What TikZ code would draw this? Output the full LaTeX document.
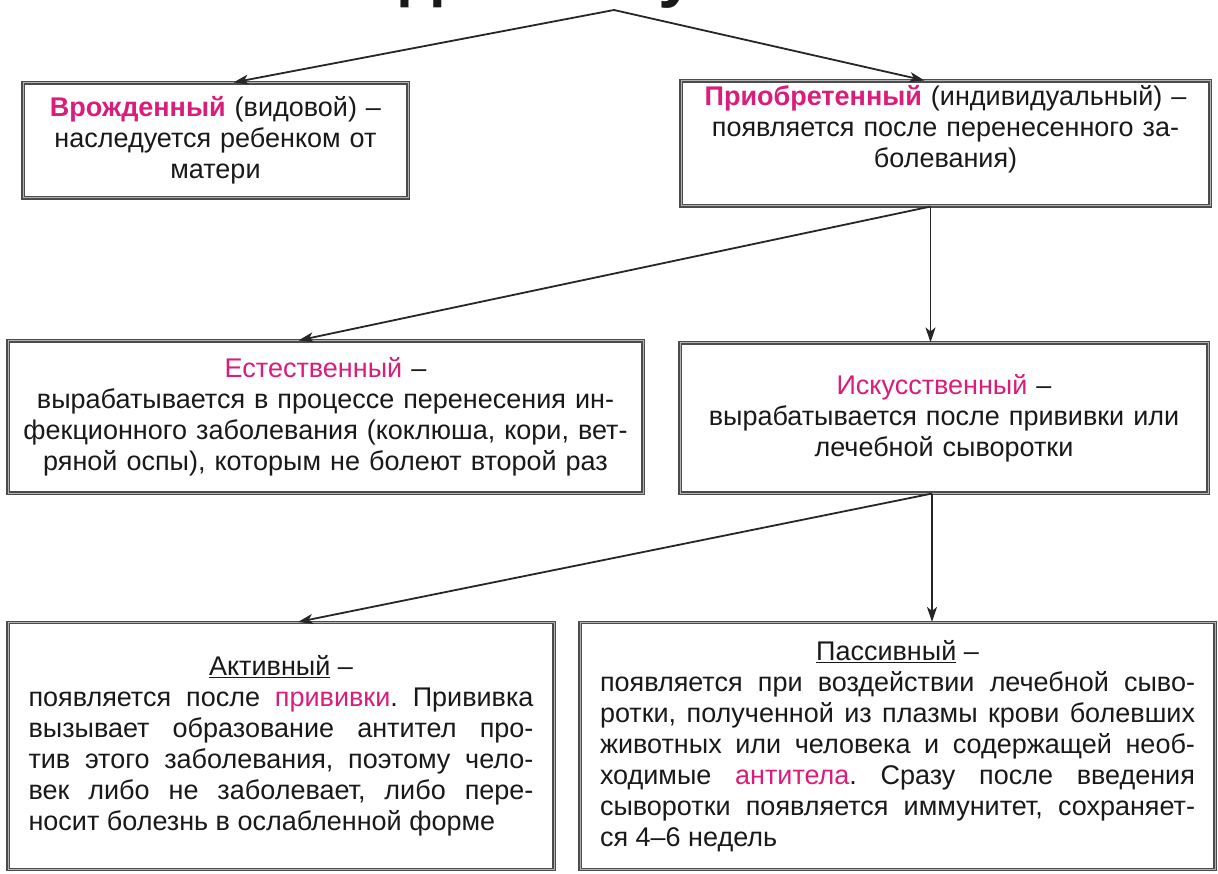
\documentclass[tikz,border=0pt]{standalone}
\usepackage{fontspec}
\setmainfont{Liberation Sans}
\usepackage{tikz}
\usetikzlibrary{arrows.meta}
\definecolor{vidcol}{RGB}{218,28,122}
\newcommand{\vid}[1]{\textcolor{vidcol}{#1}}
\frenchspacing

\begin{document}
\begin{tikzpicture}[x=1pt,y=-1pt,
	kasten/.style={draw=black!70, double=black!30, double distance=1pt, line width=1.1pt, fill=white, inner sep=0pt, text=black!90, font=\fontsize{27}{31}\selectfont},
	pfeil/.style={-{Stealth[length=15pt,width=10pt,inset=4pt]}, line width=1.8pt, black!85}]
	\useasboundingbox (0,0) rectangle (1218,874);
	%\draw[help lines] (0,0) grid[step=100] (1218,874);
	\node[anchor=base, text=black!90, font=\bfseries\fontsize{67}{70}\selectfont] (titel) at (614,-5) {Виды иммунитета};
	\coordinate (spitze) at (614,10);

	\node[kasten, minimum width=385pt, minimum height=115pt, text width=360pt, align=center] (vrozh) at (215.5,140.5)
		{\textbf{\vid{Врожденный}} (видовой) –\\ наследуется ребенком от\\ матери};
	\node[kasten, minimum width=529pt, minimum height=125pt, text width=500pt, align=center] (priob) at (945.5,143.5)
		{\textbf{\vid{Приобретенный}} (индивидуальный) –\\ появляется после перенесенного за-\\ болевания)\par\vspace*{28pt}};

	\node[kasten, minimum width=635pt, minimum height=152pt, text width=610pt, align=center] (estest) at (325.5,417)
		{\vid{Естественный} –\\ вырабатывается в процессе перенесения ин-\\ фекционного заболевания (коклюша, кори, вет-\\ ряной оспы), которым не болеют второй раз};
	\node[kasten, minimum width=528pt, minimum height=150pt, text width=500pt, align=center] (iskus) at (944,418)
		{\vid{Искусственный} –\\ вырабатывается после прививки или\\ лечебной сыворотки};

	\node[kasten, minimum width=546pt, minimum height=247pt, text width=505pt, align=justify] (aktiv) at (281,746)
		{{\centering\underline{Активный} –\par}
		появляется после \vid{прививки}. Прививка\linebreak
		вызывает образование антител про-\linebreak
		тив этого заболевания, поэтому чело-\linebreak
		век либо не заболевает, либо пере-\linebreak
		носит болезнь в ослабленной форме};
	\node[kasten, minimum width=635pt, minimum height=247pt, text width=595pt, align=justify] (passiv) at (897.5,746)
		{{\centering\underline{Пассивный} –\par}
		появляется при воздействии лечебной сыво-\linebreak
		ротки, полученной из плазмы крови болевших\linebreak
		животных или человека и содержащей необ-\linebreak
		ходимые \vid{антитела}. Сразу после введения\linebreak
		сыворотки появляется иммунитет, сохраняет-\linebreak
		ся 4–6 недель};

	\draw[pfeil] (spitze) -- ([xshift=18pt]vrozh.north);
	\draw[pfeil] (spitze) -- ([xshift=-21pt]priob.north);
	\coordinate (ab1) at ([xshift=-15pt]priob.south);
	\draw[pfeil] (ab1) -- ([xshift=-27pt]estest.north);
	\draw[pfeil] (ab1) -- (ab1 |- iskus.north);
	\coordinate (ab2) at ([xshift=-12pt]iskus.south);
	\draw[pfeil] (ab2) -- ([xshift=17pt]aktiv.north);
	\draw[pfeil] (ab2) -- (ab2 |- passiv.north);
\end{tikzpicture}
\end{document}
